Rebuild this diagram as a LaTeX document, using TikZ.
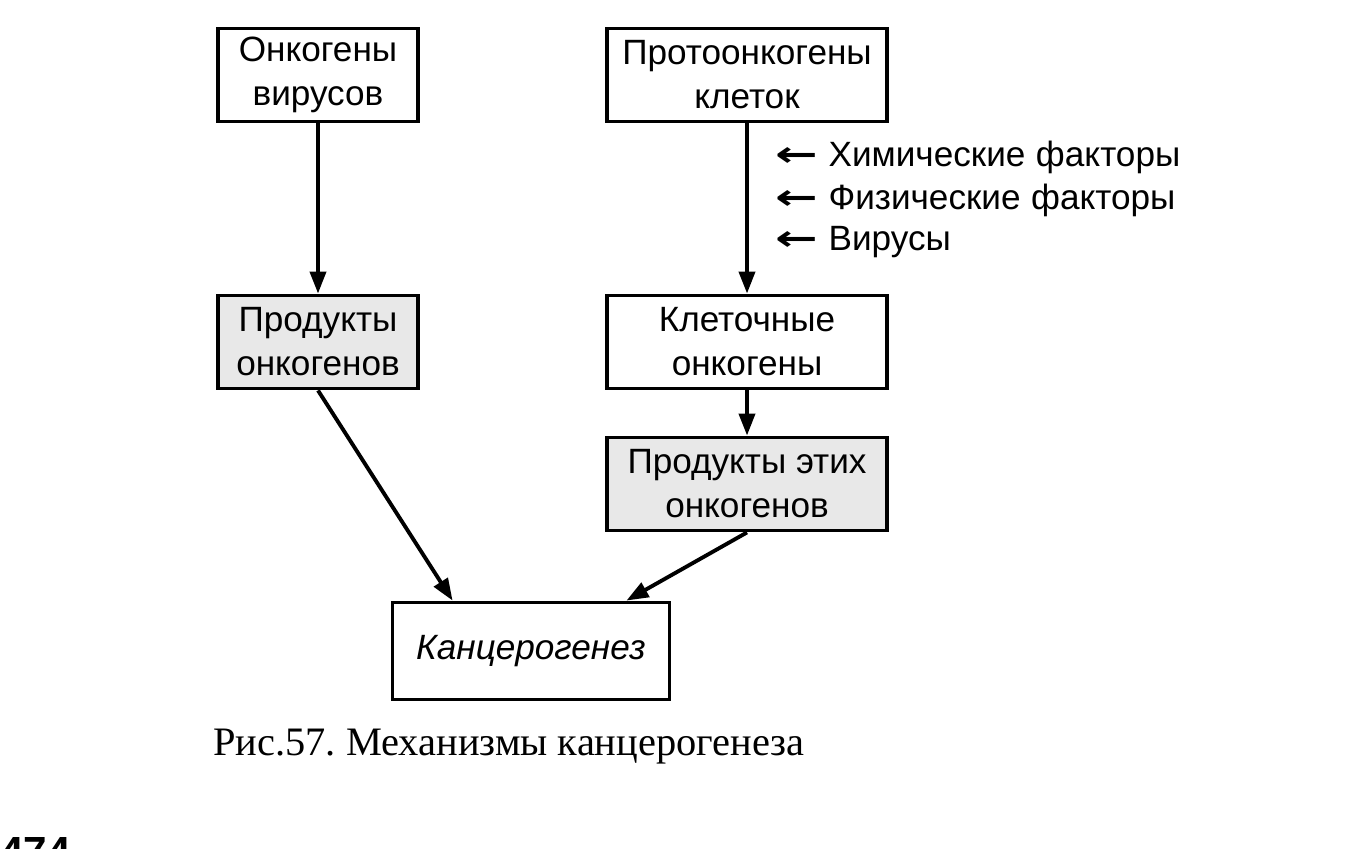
\documentclass[tikz,border=0pt]{standalone}
\usepackage{fontspec}
\setmainfont{Liberation Serif}
\setsansfont{Liberation Sans}
\newfontfamily\arrfont{DejaVu Sans}
\usepackage{tikz}
\usetikzlibrary{arrows.meta, positioning, calc}
\frenchspacing

\begin{document}
\begin{tikzpicture}[x=0.02cm, y=-0.02cm,
    box/.style={draw, line width=2.2pt, align=center, minimum height=1.86cm, font=\sffamily\fontsize{20}{25}\selectfont},
    dotted box/.style={box, fill=black!9},
    flow/.style={line width=2.2pt, -{Triangle[length=0.44cm, width=0.32cm]}},
    factor/.style={anchor=west, inner sep=0pt, font=\sffamily\fontsize{20}{24}\selectfont}]
  \useasboundingbox (0,0) rectangle (1361,848);

  % Top row
  \node[box, minimum width=4cm] (virus) at (318, 75) {Онкогены\\вирусов};
  \node[box, minimum width=5.6cm] (proto) at (747, 75) {Протоонкогены\\клеток};

  % Middle row
  \node[dotted box, minimum width=4cm] (prodvir) at (318, 342) {Продукты\\онкогенов};
  \node[box, minimum width=5.6cm] (cellonc) at (747, 342) {Клеточные\\онкогены};
  \node[dotted box, minimum width=5.6cm] (prodcell) at (747, 484) {Продукты этих\\онкогенов};

  % Result
  \node[box, minimum width=5.54cm, minimum height=1.94cm, font=\sffamily\itshape\fontsize{20}{24}\selectfont] (cancer) at (531, 651) {Канцерогенез};

  % Factors
  \node[factor] (chem) at (775, 157) {{\arrfont\bfseries\scalebox{1.45}[1]{←}}\hspace{0.3em}Химические\hspace{0.3em}факторы};
  \node[factor] (phys) at (775, 200) {{\arrfont\bfseries\scalebox{1.45}[1]{←}}\hspace{0.3em}Физические\hspace{0.3em}факторы};
  \node[factor] (vir) at (775, 242) {{\arrfont\bfseries\scalebox{1.45}[1]{←}}\hspace{0.3em}Вирусы};

  % Arrows
  \draw[flow] (virus) -- (prodvir);
  \draw[flow] (proto) -- (cellonc);
  \draw[flow] (cellonc) -- (prodcell);
  \draw[flow] (prodvir.south) -- ([xshift=1.24cm]cancer.north west);
  \draw[flow] (prodcell.south) -- ([xshift=-0.9cm]cancer.north east);

  % Caption
  \node[anchor=west, inner sep=0pt, font=\fontsize{23}{28}\selectfont] (caption) at (213, 747) {Рис.57. Механизмы канцерогенеза};

  % Page number
  \begin{scope}
    \clip (0,0) rectangle (1361,848);
    \node[anchor=north west, inner sep=0pt, font=\sffamily\bfseries\fontsize{24}{28}\selectfont] (page) at (0, 837) {474};
  \end{scope}
\end{tikzpicture}
\end{document}
